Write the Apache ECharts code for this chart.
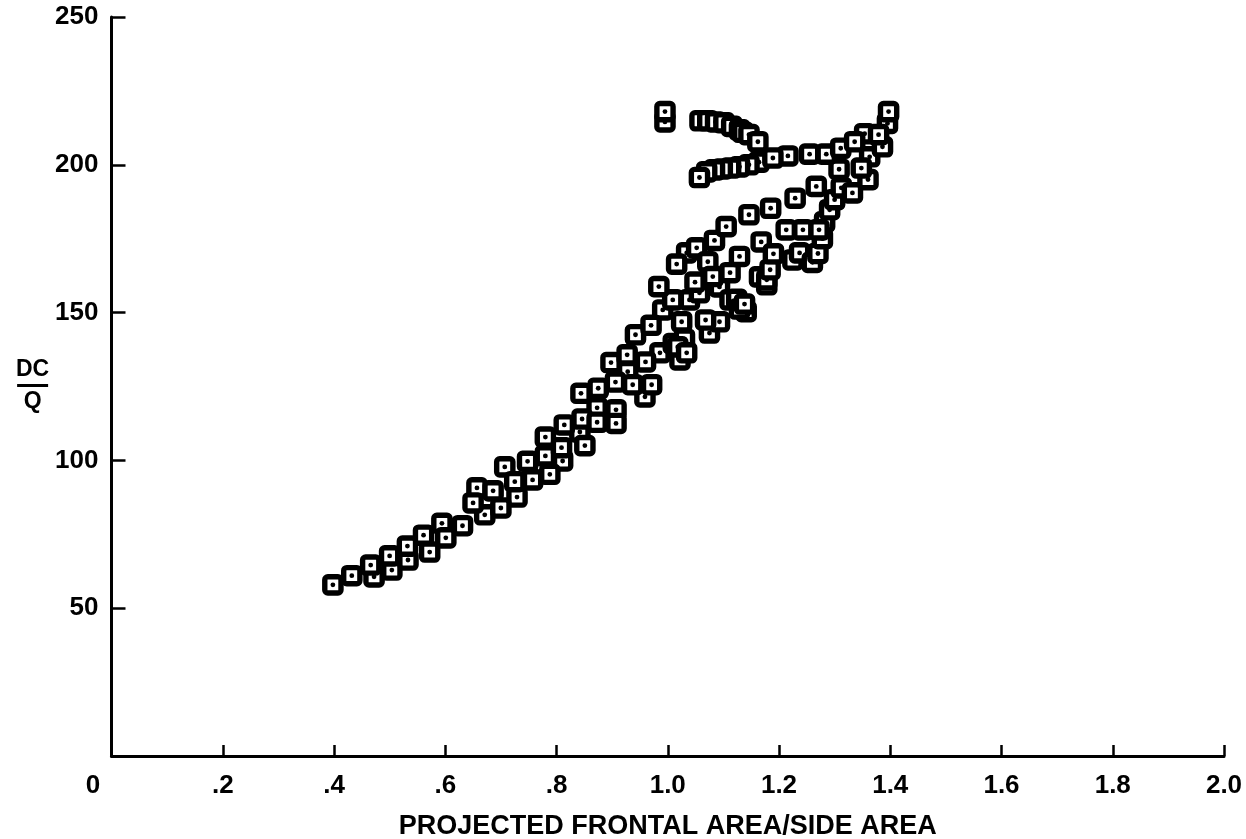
<!DOCTYPE html>
<html>
<head>
<meta charset="utf-8">
<script src="https://cdn.jsdelivr.net/npm/echarts@6/dist/echarts.min.js"></script>
<style>html,body{margin:0;padding:0;background:#fff}#c{width:1246px;height:839px}</style>
</head>
<body>
<div id="c"></div>
<script>
// Axis ticks
var xTicks = [0, 0.2, 0.4, 0.6, 0.8, 1.0, 1.2, 1.4, 1.6, 1.8, 2.0];
var yTicks = [0, 50, 100, 150, 200, 250];

// Partly hidden (overlapped) data points, drawn first
var underPoints = [
  [0.472,60.6],[0.504,62.9],[0.533,66.3],[0.572,69.0],[0.657,90.7],[0.671,81.6],
  [0.707,97.8],[0.729,87.6],[0.757,93.4],[0.811,99.8],[0.842,109.6],[0.873,117.8],
  [0.907,117.1],[0.928,130.0],[0.959,121.5],[0.986,136.4],[1.010,139.5],[1.030,141.0],
  [1.022,134.0],[1.018,138.4],[1.034,136.4],[1.075,143.1],[1.093,146.9],
  [0.991,150.9],[1.009,154.3],[1.039,154.3],[1.057,156.7],[1.093,158.7],[1.112,154.3],
  [1.124,154.5],[1.141,150.3],[1.129,151.2],[1.138,152.9],
  [1.034,170.2],[1.052,171.9],[1.072,167.2],[1.112,163.5],
  [1.165,162.1],[1.178,159.4],[1.178,161.1],[1.184,164.5],[1.225,167.8],[1.237,170.2],
  [1.260,167.0],[1.270,170.0],[1.278,175.0],[1.282,180.7],[1.291,184.8],[1.300,188.2],
  [1.312,192.2],[1.332,190.5],[1.360,195.0],[1.363,202.7],[1.386,206.1],[1.354,210.5],
  [1.395,214.0],
  [0.995,214.5],
  [1.058,214.9],[1.072,214.9],[1.086,214.5],[1.101,214.2],[1.115,213.0],[1.129,211.8],
  [1.135,211.0],[1.146,210.2],
  [1.216,203.0],[1.164,200.9],[1.146,200.0],[1.129,199.3],[1.113,198.9],[1.098,198.6],
  [1.084,198.3],[1.070,197.6]
];

// Fully visible data points (dot showing), drawn on top
var topPoints = [
  [0.398,57.9],[0.432,61.0],[0.466,64.6],[0.500,67.7],[0.532,71.0],[0.561,74.7],
  [0.594,78.7],[0.601,73.8],[0.631,77.9],[0.650,85.6],[0.686,89.7],[0.700,83.9],
  [0.725,92.8],[0.748,99.7],[0.788,95.3],[0.780,101.5],[0.780,107.9],[0.809,104.3],
  [0.851,105.0],[0.814,112.0],[0.846,114.0],[0.873,112.9],[0.907,112.5],[0.844,122.7],
  [0.875,124.4],[0.906,126.5],[0.937,125.6],[0.971,125.6],[0.898,133.1],[0.927,135.7],
  [0.960,133.3],[0.942,142.5],[0.970,145.7],[1.025,146.9],[1.068,147.5],[0.984,158.8],
  [1.016,166.4],[1.049,160.3],[1.081,162.2],[1.084,174.4],[1.105,179.1],[1.129,169.0],
  [1.168,173.9],[1.190,169.9],[1.146,183.1],[1.185,185.3],[1.213,178.0],[1.243,178.0],
  [1.272,178.0],[1.229,188.7],[1.267,192.7],[1.308,198.5],[1.348,198.9],[1.255,203.6],
  [1.285,203.6],[1.311,205.6],[1.336,207.8],[1.379,210.2],[1.397,218.0],
  [1.162,207.8],[1.189,202.3],[1.057,195.7],[0.995,218.0]
];

var FONT = '"Liberation Sans", Arial, sans-serif';

function boxItem(params, api) {
  var p = api.coord([api.value(0), api.value(1)]);
  var s = 16.2;
  return {
    type: 'group',
    children: [
      { type: 'rect', shape: { x: p[0] - s / 2, y: p[1] - s / 2, width: s, height: s, r: 3 },
        style: { fill: '#fff', stroke: '#000', lineWidth: 5.4 } },
      { type: 'circle', shape: { cx: p[0], cy: p[1], r: 2.4 }, style: { fill: '#000' } }
    ]
  };
}

var chart = echarts.init(document.getElementById('c'), null, { renderer: 'canvas' });
chart.setOption({
  animation: false,
  backgroundColor: '#fff',
  grid: { left: 111.5, right: 22, top: 17, bottom: 83, containLabel: false, outerBoundsMode: 'none' },
  xAxis: {
    type: 'value', min: xTicks[0], max: xTicks[xTicks.length - 1], interval: 0.2,
    splitLine: { show: false },
    axisLine: { lineStyle: { color: '#000', width: 3 } },
    axisTick: { inside: true, length: 11, lineStyle: { color: '#000', width: 2.5 } },
    axisLabel: {
      margin: 17, color: '#000', fontFamily: FONT, fontWeight: 'bold', fontSize: 26,
      formatter: function (v) {
        if (v === 0) return '{z|0}';
        return v.toFixed(1).replace(/^0/, '');
      },
      rich: { z: { fontFamily: FONT, fontWeight: 'bold', fontSize: 26, color: '#000', padding: [0, 37, 0, 0] } }
    },
    name: 'PROJECTED FRONTAL AREA/SIDE AREA',
    nameLocation: 'middle', nameGap: 57,
    nameTextStyle: { color: '#000', fontFamily: FONT, fontWeight: 'bold', fontSize: 27 }
  },
  yAxis: {
    type: 'value', min: yTicks[0], max: yTicks[yTicks.length - 1], interval: 50,
    splitLine: { show: false },
    axisLine: { lineStyle: { color: '#000', width: 3 } },
    axisTick: { inside: true, length: 14, lineStyle: { color: '#000', width: 2.5 } },
    axisLabel: {
      margin: 13, color: '#000', fontFamily: FONT, fontWeight: 'bold', fontSize: 26,
      formatter: function (v) { return v === 0 ? '' : String(v); }
    },
    name: '{n|DC}\n{l|}\n{d|Q}',
    nameLocation: 'middle', nameRotate: 0, nameGap: 68,
    nameTextStyle: {
      align: 'center',
      padding: [0, 10, 0, 0],
      rich: {
        n: { fontFamily: FONT, fontWeight: 'bold', fontSize: 23, color: '#000', lineHeight: 23, align: 'center' },
        l: { width: 31, height: 3, backgroundColor: '#000', lineHeight: 8, align: 'center' },
        d: { fontFamily: FONT, fontWeight: 'bold', fontSize: 23, color: '#000', lineHeight: 25, align: 'center' }
      }
    }
  },
  series: [
    { type: 'custom', renderItem: boxItem, data: underPoints, clip: false },
    { type: 'custom', renderItem: boxItem, data: topPoints, clip: false }
  ]
});
</script>
</body>
</html>
